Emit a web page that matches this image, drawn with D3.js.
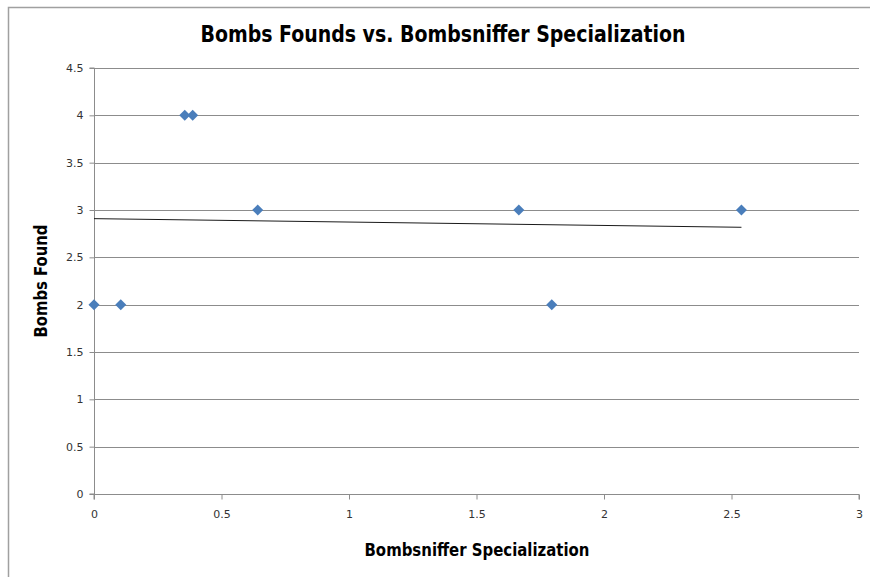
<!DOCTYPE html>
<html>
<head>
<meta charset="utf-8">
<script src="https://cdn.jsdelivr.net/npm/d3@7"></script>
<style>
	body { margin: 0; background: #fff; }
	text { font-family: "Liberation Sans Narrow", "DejaVu Sans Condensed", sans-serif; }
</style>
</head>
<body>
<div id="chart"></div>
<script>
// data
var specialization = [0, 0.105, 0.356, 0.387, 0.642, 1.666, 1.795, 2.539];
var bombsFound = [2, 2, 4, 4, 3, 3, 2, 3];
var xTicks = [0, 0.5, 1, 1.5, 2, 2.5, 3];
var yTicks = [0, 0.5, 1, 1.5, 2, 2.5, 3, 3.5, 4, 4.5];

var width = 870, height = 577;
var plotLeft = 94, plotRight = 859, plotTop = 68, plotBottom = 494;

var svg = d3.select("#chart").append("svg")
	.attr("width", width)
	.attr("height", height);

// chart frame (only top/left edge shows in the reference)
svg.append("path")
	.attr("d", "M8.5," + height + "V7.5H" + width)
	.attr("fill", "none")
	.attr("stroke", "#a0a0a0")
	.attr("stroke-width", 1.5);

var x = d3.scaleLinear().domain([0, 3]).range([plotLeft, plotRight]);
var y = d3.scaleLinear().domain([0, 4.5]).range([plotBottom, plotTop]);

// gridlines
svg.append("g").selectAll("line")
	.data(yTicks.filter(d => d > 0))
	.enter().append("line")
	.attr("x1", plotLeft).attr("x2", plotRight)
	.attr("y1", d => Math.round(y(d)) + 0.5)
	.attr("y2", d => Math.round(y(d)) + 0.5)
	.attr("stroke", "#8c8c8c")
	.attr("stroke-width", 1);

// axes
var xAxis = svg.append("g")
	.attr("transform", "translate(0," + (plotBottom + 0.5) + ")")
	.call(d3.axisBottom(x).tickValues(xTicks).tickSize(5).tickPadding(11).tickFormat(d3.format("")));
var yAxis = svg.append("g")
	.attr("transform", "translate(" + (plotLeft + 0.5) + ",0)")
	.call(d3.axisLeft(y).tickValues(yTicks).tickSize(5).tickPadding(6).tickFormat(d3.format("")));

[xAxis, yAxis].forEach(function(a) {
	a.select(".domain").attr("stroke", "#8c8c8c");
	a.selectAll(".tick line").attr("stroke", "#8c8c8c");
	a.selectAll(".tick text")
		.attr("fill", "#333")
		.style("font-family", "'DejaVu Sans', sans-serif")
		.style("font-size", "11px");
});
xAxis.select(".domain").attr("d", "M" + plotLeft + ",5V0H" + plotRight + "V5");
yAxis.select(".domain").attr("d", "M-5," + plotTop + "H0V" + plotBottom + "H-5");

// linear trendline (least squares)
var n = specialization.length;
var mx = d3.mean(specialization), my = d3.mean(bombsFound);
var sxy = 0, sxx = 0;
for (var i = 0; i < n; i++) {
	sxy += (specialization[i] - mx) * (bombsFound[i] - my);
	sxx += (specialization[i] - mx) * (specialization[i] - mx);
}
var slope = sxy / sxx;
var intercept = my - slope * mx;
var x0 = d3.min(specialization), x1 = d3.max(specialization);
svg.append("line")
	.attr("x1", x(x0)).attr("y1", y(intercept + slope * x0))
	.attr("x2", x(x1)).attr("y2", y(intercept + slope * x1))
	.attr("stroke", "#1a1a1a")
	.attr("stroke-width", 1);

// points
svg.append("g").selectAll("path")
	.data(specialization)
	.enter().append("path")
	.attr("d", "M0,-5.5L5.5,0L0,5.5L-5.5,0Z")
	.attr("transform", (d, i) => "translate(" + x(d) + "," + y(bombsFound[i]) + ")")
	.attr("fill", "#4a7ebb");

// title + axis labels
svg.append("text")
	.attr("x", 443).attr("y", 42)
	.attr("text-anchor", "middle")
	.style("font-size", "23px")
	.style("font-weight", "bold")
	.attr("textLength", 485)
	.attr("lengthAdjust", "spacingAndGlyphs")
	.text("Bombs Founds vs. Bombsniffer Specialization");

svg.append("text")
	.attr("x", 477).attr("y", 556)
	.attr("text-anchor", "middle")
	.style("font-size", "17px")
	.style("font-weight", "bold")
	.attr("textLength", 225)
	.attr("lengthAdjust", "spacingAndGlyphs")
	.text("Bombsniffer Specialization");

svg.append("text")
	.attr("transform", "translate(47,281) rotate(-90)")
	.attr("text-anchor", "middle")
	.style("font-size", "17px")
	.style("font-weight", "bold")
	.attr("textLength", 113)
	.attr("lengthAdjust", "spacingAndGlyphs")
	.text("Bombs Found");
</script>
</body>
</html>
